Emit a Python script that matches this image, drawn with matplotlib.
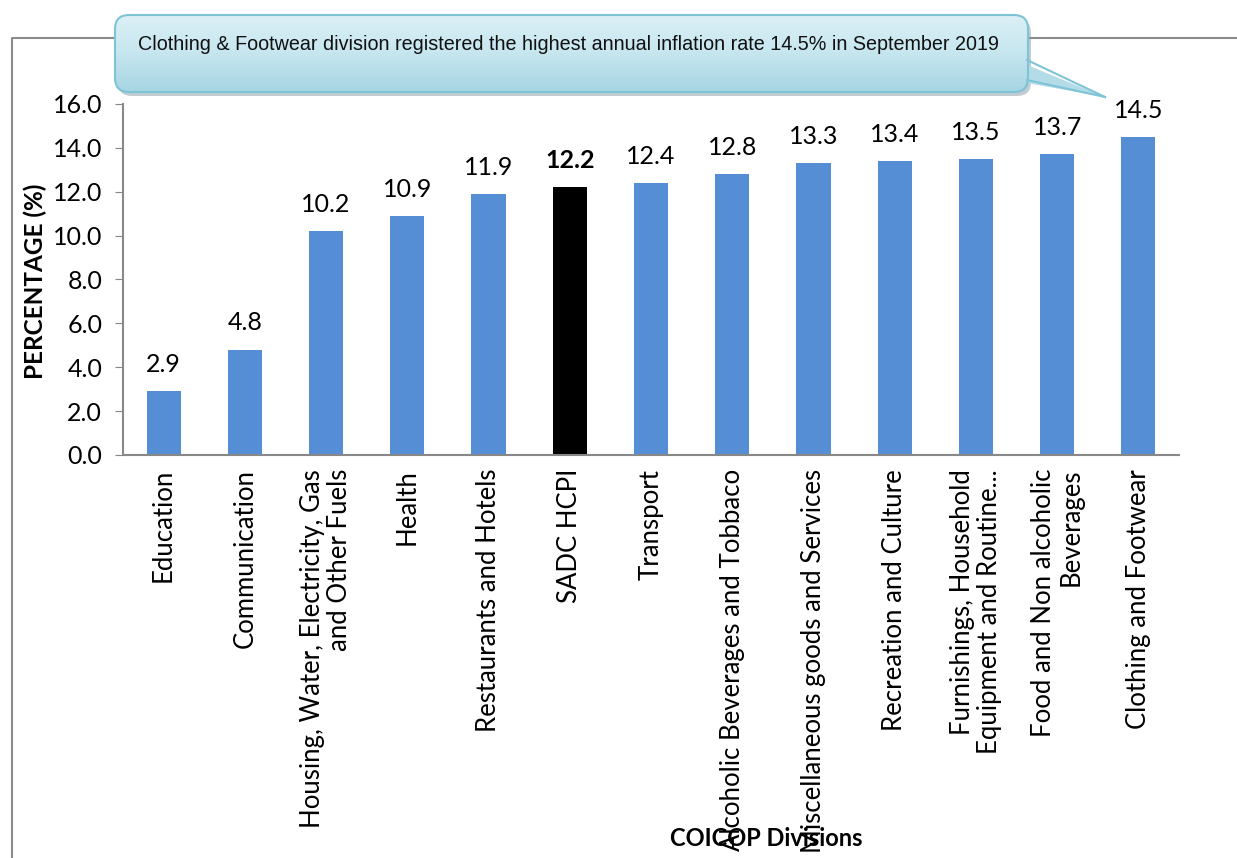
import matplotlib.pyplot as plt
import numpy as np
from matplotlib.patches import FancyBboxPatch, Polygon

categories = [
    "Education",
    "Communication",
    "Housing, Water, Electricity, Gas\nand Other Fuels",
    "Health",
    "Restaurants and Hotels",
    "SADC HCPI",
    "Transport",
    "Alcoholic Beverages and Tobbaco",
    "Miscellaneous goods and Services",
    "Recreation and Culture",
    "Furnishings, Household\nEquipment and Routine...",
    "Food and Non alcoholic\nBeverages",
    "Clothing and Footwear",
]
values = [2.9, 4.8, 10.2, 10.9, 11.9, 12.2, 12.4, 12.8, 13.3, 13.4, 13.5, 13.7, 14.5]
highlight = "SADC HCPI"
callout_text = "Clothing & Footwear division registered the highest annual inflation rate 14.5% in September 2019"

W, H = 1237, 858
fig = plt.figure(figsize=(W / 100, H / 100), dpi=100)
font = ["Lato", "DejaVu Sans"]
narrow = ["Liberation Sans Narrow", "Liberation Sans", "DejaVu Sans"]

# overlay in pixel coordinates for frame and callout
ov = fig.add_axes([0, 0, 1, 1], zorder=5)
ov.axis("off")
ov.patch.set_alpha(0)

ax = fig.add_axes([123 / W, 1 - 455 / H, 1056 / W, 351 / H], zorder=1)
x = np.arange(len(categories))
colors = ["black" if c == highlight else "#558ed5" for c in categories]
ax.bar(x, values, width=0.42, color=colors)

ax.set_ylim(0, 16)
ax.set_xlim(-0.5, len(categories) - 0.5)
yt = np.arange(0, 16.1, 2)
ax.set_yticks(yt)
ax.set_yticklabels([f"{v:.1f}" for v in yt], family=font, fontsize=18)
ax.set_xticks(x)
ax.set_xticklabels(categories, rotation=90, family=font, fontsize=18.5,
                   ha="center", va="top", multialignment="right", linespacing=1.1)
ax.tick_params(axis="x", length=0, pad=10)
ax.tick_params(axis="y", length=6, color="#888888", pad=9)
for s in ["top", "right"]:
    ax.spines[s].set_visible(False)
for s in ["left", "bottom"]:
    ax.spines[s].set_color("#888888")
    ax.spines[s].set_linewidth(1.5)

for i, v in enumerate(values):
    bold = categories[i] == highlight
    ax.annotate(f"{v:.1f}", (i, v), xytext=(0, 11), textcoords="offset points",
                ha="center", va="bottom", fontsize=18, family=font,
                fontweight="bold" if bold else "normal")

fig.text(35 / W, 1 - 281 / H, "PERCENTAGE (%)", rotation=90, ha="center", va="center",
         fontsize=17.5, fontweight="bold", family=font)
fig.text(766 / W, 1 - 838 / H, "COICOP Divisions", ha="center", va="center",
         fontsize=17, fontweight="bold", family=font, zorder=10)

# outer frame
ov.plot([12, 12, W], [H, 38, 38], color="#8c8c8c", lw=1.5, zorder=1)

# callout box with gradient fill and tail
x0, y0, x1, y1 = 115, 15, 1028, 92
tip = (1105, 97)
grad = np.linspace(0, 1, 256)[:, None]
cmap = plt.matplotlib.colors.LinearSegmentedColormap.from_list(
    "c", ["#dcf0f6", "#c6e6ef", "#a6d5e3"])

shadow = FancyBboxPatch((x0 + 3, y0 + 4), x1 - x0, y1 - y0,
                        boxstyle="round,pad=0,rounding_size=14",
                        fc="#8fa3ab", ec="none", alpha=0.55, zorder=2)
ov.add_patch(shadow)
tail = Polygon([(1010, 58), tip, (1010, 80)], closed=True, fc="#b4dce8", ec="none", zorder=3)
ov.add_patch(tail)
box = FancyBboxPatch((x0, y0), x1 - x0, y1 - y0, boxstyle="round,pad=0,rounding_size=14",
                     fc="none", ec="#7fc3d6", lw=1.5, zorder=5)
ov.add_patch(box)
im = ov.imshow(grad, cmap=cmap, extent=[x0, x1, y1, y0], aspect="auto", zorder=4)
im.set_clip_path(box)
ov.plot([1027, tip[0]], [60, tip[1]], color="#7fc3d6", lw=1.5, zorder=5)
ov.plot([1027, tip[0]], [80, tip[1]], color="#7fc3d6", lw=1.5, zorder=5)
ov.text(138, 44, callout_text, ha="left", va="center", fontsize=14.2, family=narrow,
        color="#111111", zorder=6)
ov.set_xlim(0, W)
ov.set_ylim(H, 0)

fig.savefig("out.png", dpi=100)
